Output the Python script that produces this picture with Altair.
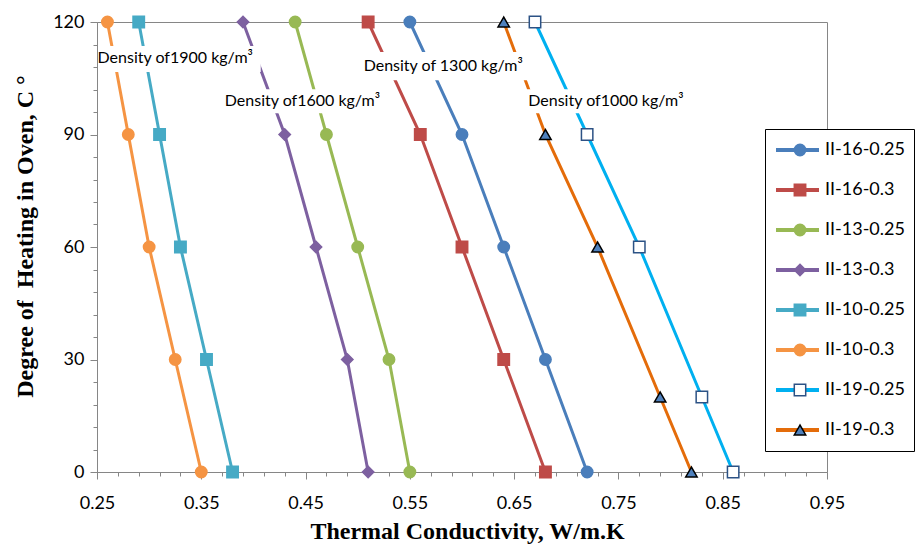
import altair as alt
import pandas as pd

# ---- data ----
series = ["II-16-0.25", "II-16-0.3", "II-13-0.25", "II-13-0.3",
          "II-10-0.25", "II-10-0.3", "II-19-0.25", "II-19-0.3"]

deg_std = [0, 30, 60, 90, 120]
deg_19 = [0, 20, 60, 90, 120]

k_16_025 = [0.72, 0.68, 0.64, 0.60, 0.55]
k_16_03 = [0.68, 0.64, 0.60, 0.56, 0.51]
k_13_025 = [0.55, 0.53, 0.50, 0.47, 0.44]
k_13_03 = [0.51, 0.49, 0.46, 0.43, 0.39]
k_10_025 = [0.38, 0.355, 0.33, 0.31, 0.29]
k_10_03 = [0.35, 0.325, 0.30, 0.28, 0.26]
k_19_025 = [0.86, 0.83, 0.77, 0.72, 0.67]
k_19_03 = [0.82, 0.79, 0.73, 0.68, 0.64]

values_by_series = [k_16_025, k_16_03, k_13_025, k_13_03,
                    k_10_025, k_10_03, k_19_025, k_19_03]
degrees_by_series = [deg_std] * 6 + [deg_19, deg_19]

x_ticks = [0.25, 0.27, 0.29, 0.31, 0.33, 0.35, 0.37, 0.39, 0.41, 0.43, 0.45,
           0.47, 0.49, 0.51, 0.53, 0.55, 0.57, 0.59, 0.61, 0.63, 0.65, 0.67,
           0.69, 0.71, 0.73, 0.75, 0.77, 0.79, 0.81, 0.83, 0.85, 0.87, 0.89,
           0.91, 0.93, 0.95]
y_ticks = [0, 6, 12, 18, 24, 30, 36, 42, 48, 54, 60, 66, 72, 78, 84, 90,
           96, 102, 108, 114, 120]

ann_text = ["Density of1900 kg/m³", "Density of1600 kg/m³",
            "Density of 1300 kg/m³", "Density of1000 kg/m³"]
ann_x = [0.325, 0.447, 0.582, 0.738]
ann_y = [110.4, 98.9, 108.3, 98.9]
ann_x1 = [0.251, 0.369, 0.501, 0.662]
ann_x2 = [0.407, 0.525, 0.663, 0.818]
ann_y1 = [113.6, 102.1, 112.0, 102.1]
ann_y2 = [106.7, 95.7, 104.5, 95.7]

# ---- styles ----
line_colors = ["#4A7EBB", "#BE4B48", "#98B954", "#7D60A0",
               "#46AAC5", "#F59443", "#00B0F0", "#E46C0A"]
fill_colors = ["#4A7EBB", "#BE4B48", "#98B954", "#7D60A0",
               "#46AAC5", "#F59443", "#FFFFFF", "#4F81BD"]
stroke_colors = ["#4A7EBB", "#BE4B48", "#98B954", "#7D60A0",
                 "#46AAC5", "#F59443", "#2C5285", "#000000"]
shapes = ["circle", "square", "circle", "diamond",
          "square", "circle", "square", "triangle-up"]

# marker legend uses a distinct domain so it is not merged with the line legend
series_m = [s + " " for s in series]

rows = []
for name, name_m, ks, ds in zip(series, series_m, values_by_series, degrees_by_series):
    for d, k in zip(ds, ks):
        rows.append({"series": name, "series2": name_m, "deg": d, "k": k})
df = pd.DataFrame(rows)

ann = pd.DataFrame({"text": ann_text, "x": ann_x, "y": ann_y,
                    "x1": ann_x1, "x2": ann_x2, "y1": ann_y1, "y2": ann_y2})

GRAY = "#868686"
XT = "Thermal Conductivity, W/m.K"
YT = "Degree of\u00a0 Heating in Oven, C °"
xscale = alt.Scale(domain=[0.25, 0.95], nice=False, zero=False)
yscale = alt.Scale(domain=[0, 120], nice=False, zero=False)

xaxis = alt.Axis(
    values=x_ticks,
    labelExpr="round((datum.value-0.25)*100) % 10 == 0 ? format(datum.value, '.2f') : ''",
    tickSize={"condition": {"test": "round((datum.value-0.25)*100) % 10 == 0", "value": 7}, "value": 4},
    grid=False, domainColor=GRAY, tickColor=GRAY, labelFont="Lato", labelFontSize=18,
    labelColor="black", labelPadding=15, labelFlush=False, labelOverlap=False,
    labelBound=False,
    titleFont="Liberation Serif", titleFontWeight="bold", titleFontSize=24,
    titleColor="black", titlePadding=7, titleX=370,
)
yaxis = alt.Axis(
    values=y_ticks,
    labelExpr="datum.value % 30 == 0 ? datum.label : ''",
    tickSize={"condition": {"test": "datum.value % 30 == 0", "value": 7}, "value": 4},
    grid=False, domainColor=GRAY, tickColor=GRAY, labelFont="Lato", labelFontSize=18,
    labelColor="black", labelPadding=6, labelOverlap=False, labelFlush=False,
    labelBound=False,
    titleFont="Liberation Serif", titleFontWeight="bold", titleFontSize=24,
    titleColor="black", titlePadding=15, titleY=214,
)

X = alt.X("k:Q", scale=xscale, axis=xaxis, title=XT)
Y = alt.Y("deg:Q", scale=yscale, axis=yaxis, title=YT)

line_legend = alt.Legend(
    orient="none", legendX=668, legendY=107, title=None,
    padding=9, fillColor="white", strokeColor="black",
    symbolType="stroke", symbolSize=1849, symbolStrokeWidth=4,
    labelFont="Lato", labelFontSize=18, labelColor="black", labelOffset=4,
    labelLimit=300, labelExpr="datum.label + '        '",
    rowPadding=16, clipHeight=24, zindex=1,
)
marker_legend = alt.Legend(
    orient="none", legendX=668, legendY=107, title=None,
    padding=9, symbolSize=130, symbolStrokeWidth=1.5, symbolOffset=17,
    labelFont="Lato", labelFontSize=18, labelExpr="''", labelOffset=4,
    labelLimit=300, rowPadding=16, clipHeight=24, zindex=2,
)

lines = alt.Chart(df).mark_line(strokeWidth=3).encode(
    x=X, y=Y,
    color=alt.Color("series:N", scale=alt.Scale(domain=series, range=line_colors),
                    legend=line_legend),
    order=alt.Order("deg:Q"),
)

points = alt.Chart(df).mark_point(filled=True, size=130, strokeWidth=1.5, opacity=1).encode(
    x=X, y=Y,
    shape=alt.Shape("series2:N", scale=alt.Scale(domain=series_m, range=shapes),
                    legend=marker_legend),
    fill=alt.Fill("series2:N", scale=alt.Scale(domain=series_m, range=fill_colors),
                  legend=marker_legend),
    stroke=alt.Stroke("series2:N", scale=alt.Scale(domain=series_m, range=stroke_colors),
                      legend=marker_legend),
)

boxes = alt.Chart(ann).mark_rect(fill="white").encode(
    x=alt.X("x1:Q", scale=xscale, axis=xaxis, title=XT),
    x2="x2:Q",
    y=alt.Y("y1:Q", scale=yscale, axis=yaxis, title=YT),
    y2="y2:Q",
)

texts = alt.Chart(ann).mark_text(font="Lato", fontSize=16, color="black",
                                 align="center", baseline="middle").encode(
    x=alt.X("x:Q", scale=xscale, axis=xaxis, title=XT),
    y=alt.Y("y:Q", scale=yscale, axis=yaxis, title=YT),
    text="text:N",
)

chart = alt.layer(lines, points, boxes, texts).properties(
    width=730, height=450,
    autosize=alt.AutoSizeParams(type="none"),
    padding={"left": 97, "top": 22, "right": 90, "bottom": 74},
    background="white",
).configure_view(stroke=GRAY, strokeWidth=1)

chart.save("out.html", embed_options={"renderer": "svg", "actions": False})
